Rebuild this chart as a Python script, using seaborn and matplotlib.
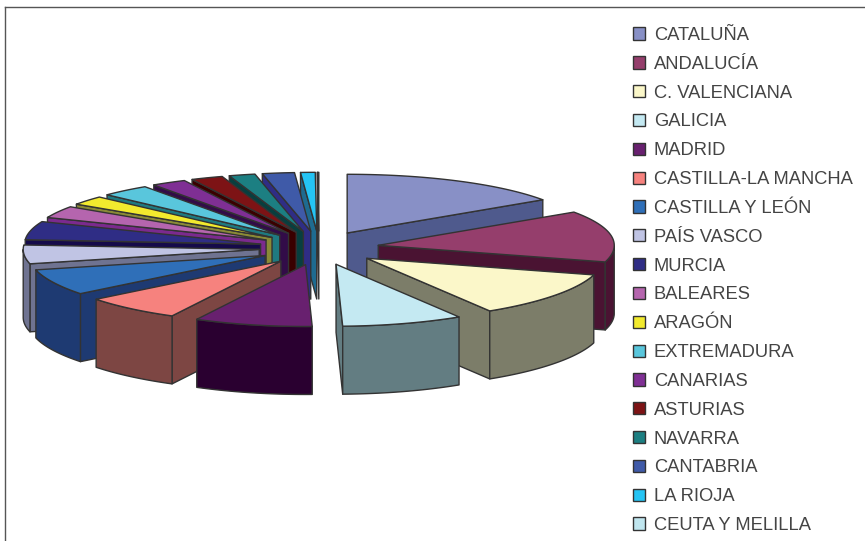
import numpy as np
import matplotlib
matplotlib.use('Agg')
import matplotlib.pyplot as plt
from matplotlib.patches import Patch
import seaborn as sns

regions = ['CATALUÑA', 'ANDALUCÍA', 'C. VALENCIANA', 'GALICIA', 'MADRID', 'CASTILLA-LA MANCHA',
           'CASTILLA Y LEÓN', 'PAÍS VASCO', 'MURCIA', 'BALEARES', 'ARAGÓN', 'EXTREMADURA',
           'CANARIAS', 'ASTURIAS', 'NAVARRA', 'CANTABRIA', 'LA RIOJA', 'CEUTA Y MELILLA']
values = [15.6, 13.9, 11.9, 8.3, 8.1, 6.7, 6.9, 5.0, 5.0, 3.3, 2.5, 3.4, 2.4, 2.2, 1.8, 2.2, 1.0, 0.1]
top_colors = ['#8890c6', '#953e6c', '#fbf7c9', '#c4e9f2', '#68206f', '#f6827e', '#2f6fb8', '#c0c4e4', '#2f2d85',
              '#b565ae', '#f2ea2e', '#59c6dc', '#7f2f94', '#7d1315', '#1c7f82', '#3f5aa8', '#25c4f4', '#c0e6ef']
side_colors = ['#4f5a8d', '#4a1332', '#7c7d69', '#637d82', '#2a0030', '#7d4643', '#1e3a72', '#6f7391', '#150a4a',
               '#7b2a8e', '#8a8a36', '#1f7a80', '#320c48', '#3a0000', '#073f3f', '#2f2d85', '#1e6b90', '#637d82']

# pie geometry in pixels, the view is nearly flat so an ellipse with a little bend is enough
cx, cy = 319, 248
rx, ry = 236, 60.3
bend = 1.6
explode_x, explode_y = 60, 17
depth = 68
edge = '#333333'

sns.set_theme(style='white')
plt.rcParams['font.family'] = ['Liberation Sans', 'DejaVu Sans']

fig = plt.figure(figsize=(8.65, 5.41), dpi=100)
ax = fig.add_axes([5 / 865, 0, 860 / 865, 534 / 541])
ax.set_xlim(5, 865)
ax.set_ylim(541, 7)
ax.set_xticks([])
ax.set_yticks([])
sns.despine(ax=ax, top=False, left=False, right=True, bottom=True)
for s in ['top', 'left']:
    ax.spines[s].set_color('#555555')
    ax.spines[s].set_linewidth(1.0)

shares = np.array(values) / sum(values) * 2 * np.pi
ends = np.cumsum(shares)
starts = ends - shares
mids = (starts + ends) / 2


def rim(t, ox, oy):
    c = np.cos(t)
    return ox + rx * np.sin(t), oy - ry * c + bend * c ** 2


def face(xs, ys, color):
    # extrude an outline downwards
    xs = np.asarray(xs)
    ys = np.asarray(ys)
    px = np.concatenate([xs, xs[::-1]])
    py = np.concatenate([ys, ys[::-1] + depth])
    ax.fill(px, py, facecolor=color, edgecolor=edge, linewidth=1.0, joinstyle='round')


# back slices first
for i in np.argsort(-np.cos(mids)):
    t0, t1 = starts[i], ends[i]
    ox = cx + explode_x * np.sin(mids[i])
    oy = cy - explode_y * np.cos(mids[i])
    if np.sin(t0) < 0:
        x0, y0 = rim(t0, ox, oy)
        face([ox, x0], [oy, y0], side_colors[i])
    if np.sin(t1) > 0:
        x1, y1 = rim(t1, ox, oy)
        face([ox, x1], [oy, y1], side_colors[i])
    tt = np.linspace(t0, t1, 60)
    front = tt[np.cos(tt) < 0]
    if len(front) > 1:
        fx, fy = rim(front, ox, oy)
        face(fx, fy, side_colors[i])
    tx, ty = rim(tt, ox, oy)
    ax.fill(np.r_[ox, tx], np.r_[oy, ty], facecolor=top_colors[i], edgecolor=edge,
            linewidth=1.0, joinstyle='round')

handles = [Patch(facecolor=c, edgecolor=edge, linewidth=1.0) for c in top_colors]
ax.legend(handles, regions, loc='upper left', bbox_to_anchor=(633, 27), bbox_transform=ax.transData,
          frameon=False, fontsize=13.2, labelcolor='#444444', borderpad=0, borderaxespad=0,
          handlelength=0.65, handleheight=0.65, handletextpad=0.49, labelspacing=0.645)

fig.savefig('out.png', dpi=100)
